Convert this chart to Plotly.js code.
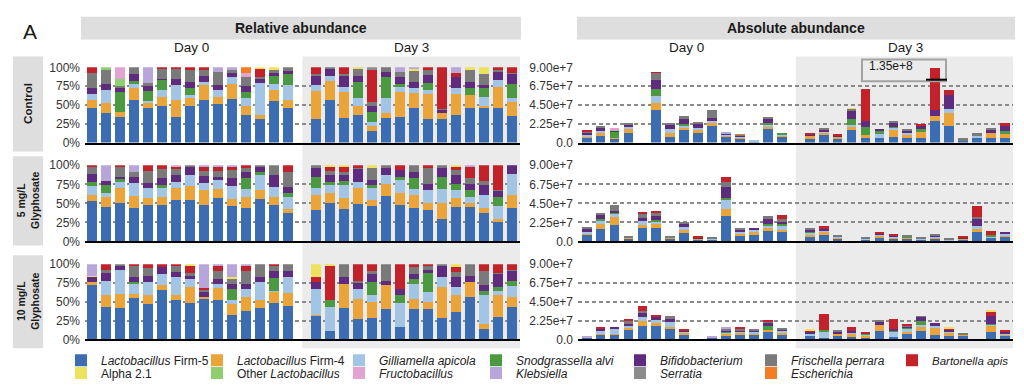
<!DOCTYPE html>
<html><head><meta charset="utf-8">
<script src="https://cdn.plot.ly/plotly-3.0.1.min.js"></script>
<style>html,body{margin:0;padding:0;background:#fff}#chart{width:1024px;height:388px}</style>
</head><body><div id="chart"></div>
<script>
// ---- Relative abundance (%), 15 Day-0 samples then 15 Day-3 samples ----
// Control
const ctrlRelF5   = [46,39,34,56,46,49,34,48,57,51,58,37,31,55,46, 31,56,33,37,15,33,34,46,31,31,37,46,46,46,35];
const ctrlRelF4   = [11,13,7,16,7,12,22,11,19,9,20,11,6,15,10, 38,26,34,11,7,6,33,20,34,8,27,17,2,28,19];
const ctrlRelGil  = [7,18,0,6,2,9,20,4,4,10,9,11,42,8,20, 7,7,7,11,5,20,7,6,5,0,8,0,13,9,5];
const ctrlRelSnod = [0,0,26,4,14,13,0,9,0,0,0,8,0,10,15, 0,0,0,21,14,28,4,0,9,0,0,10,11,0,19];
const ctrlRelBif  = [8,8,5,9,6,2,9,8,9,6,6,8,6,5,4, 13,9,15,9,7,7,9,9,11,4,15,7,4,11,13];
const ctrlRelFris = [21,19,3,9,4,13,13,16,8,18,4,12,2,4,5, 2,2,2,9,6,6,7,14,6,2,0,16,15,3,2];
const ctrlRelBart = [7,0,0,0,0,2,2,4,3,0,0,0,11,0,0, 9,0,9,0,43,0,0,0,4,55,6,0,0,3,7];
const ctrlRelAlpha= [0,0,0,0,0,0,0,0,0,0,0,0,2,3,0, 0,0,0,2,0,0,0,3,0,0,0,4,9,0,0];
const ctrlRelOlac = [0,3,9,0,0,0,0,0,0,0,0,0,0,0,0, 0,0,0,0,0,0,0,0,0,0,0,0,0,0,0];
const ctrlRelFruc = [0,0,16,0,0,0,0,0,0,0,0,5,0,0,0, 0,0,0,0,0,0,0,0,0,0,0,0,0,0,0];
const ctrlRelKleb = [0,0,0,0,21,0,0,0,0,6,3,0,0,0,0, 0,0,0,0,0,0,6,2,0,0,7,0,0,0,0];
const ctrlRelSerr = [0,0,0,0,0,0,0,0,0,0,0,0,0,0,0, 0,0,0,0,3,0,0,0,0,0,0,0,0,0,0];
const ctrlRelEsch = [0,0,0,0,0,0,0,0,0,0,0,8,0,0,0, 0,0,0,0,0,0,0,0,0,0,0,0,0,0,0];
// 5 mg/L Glyphosate
const g5RelF5   = [53,45,50,44,48,48,54,55,48,57,47,44,56,48,38, 41,51,42,49,47,60,48,44,41,29,45,45,38,25,44];
const g5RelF4   = [8,14,20,16,9,11,16,18,19,12,9,15,11,11,5, 20,12,15,21,8,15,16,17,10,22,12,5,6,5,17];
const g5RelGil  = [12,5,8,17,13,11,8,14,10,12,17,10,20,13,16, 9,11,17,8,15,12,17,8,17,18,11,9,17,17,28];
const g5RelSnod = [5,10,4,0,0,4,0,0,0,0,0,14,4,0,5, 15,4,6,0,4,0,4,14,0,16,8,8,0,12,0];
const g5RelBif  = [11,5,3,8,7,9,9,11,9,3,10,8,7,15,8, 11,9,7,17,7,9,9,8,8,11,11,9,13,7,11];
const g5RelFris = [9,0,13,6,15,12,8,2,7,8,11,5,2,13,19, 4,5,4,2,15,4,0,9,20,4,7,7,6,2,0];
const g5RelBart = [2,0,2,0,8,5,3,0,5,6,4,4,0,0,9, 0,6,7,3,0,0,6,0,4,0,4,15,20,32,0];
const g5RelAlpha= [0,0,0,0,0,0,0,0,0,0,0,0,0,0,0, 0,2,2,0,4,0,0,0,0,0,2,0,0,0,0];
const g5RelFruc = [0,0,0,0,0,0,2,0,0,0,0,0,0,0,0, 0,0,0,0,0,0,0,0,0,0,0,0,0,0,0];
const g5RelKleb = [0,21,0,9,0,0,0,0,2,2,2,0,0,0,0, 0,0,0,0,0,0,0,0,0,0,0,2,0,0,0];
// 10 mg/L Glyphosate
const g10RelF5   = [73,43,42,55,47,66,52,49,54,52,33,38,42,48,44, 31,11,42,27,28,40,17,41,41,28,36,56,14,30,43];
const g10RelF4   = [4,16,18,6,12,7,7,21,3,17,14,19,10,15,18, 2,0,32,27,22,32,0,13,9,42,23,21,6,29,13];
const g10RelGil  = [0,19,33,13,17,14,24,11,0,5,5,10,24,2,21, 34,32,0,13,9,0,31,20,13,13,11,0,39,6,15];
const g10RelSnod = [0,0,0,3,0,0,0,0,0,0,15,0,0,17,0, 0,9,0,0,17,0,11,6,26,0,0,0,6,5,7];
const g10RelBif  = [6,11,5,6,9,9,7,4,6,6,7,7,7,9,8, 9,0,9,9,11,6,8,7,4,15,13,8,7,17,13];
const g10RelFris = [0,3,2,15,10,0,8,3,3,11,6,17,17,7,9, 0,0,17,2,4,22,0,9,5,2,7,15,19,2,2];
const g10RelBart = [0,8,0,2,5,4,2,10,2,7,0,7,0,2,0, 7,46,0,22,9,0,33,4,2,0,6,0,9,11,7];
const g10RelAlpha= [2,0,0,0,0,0,0,2,0,0,3,0,0,0,0, 17,2,0,0,0,0,0,0,0,0,4,0,0,0,0];
const g10RelKleb = [15,0,0,0,0,0,0,0,32,2,17,2,0,0,0, 0,0,0,0,0,0,0,0,0,0,0,0,0,0,0];

// ---- Absolute abundance (units of 1e7 copies) ----
const ctrlAbsF5   = [0.59,0.78,0.47,1.17,0,3.91,0.70,1.49,1.17,2.03,0.70,0.39,0.05,1.68,0.66, 0.47,0.86,0.39,1.49,0.59,0.59,0.70,0.59,0.51,2.54,1.96,0.20,0.59,0.59,0.59];
const ctrlAbsF4   = [0.10,0.32,0.12,0.47,0,0.86,0.40,0.27,0.39,0.32,0.16,0.16,0,0.20,0.10, 0.31,0.31,0.27,0.39,0.27,0,0.79,0.31,0.74,0.66,1.56,0,0,0.58,0.40];
const ctrlAbsGil  = [0.17,0.27,0,0.16,0,0.78,0.46,0.20,0.20,0.19,0.12,0.12,0.20,0.27,0.15, 0,0.10,0,0.27,0,0.39,0.27,0.20,0,0,0.47,0,0.15,0,0];
const ctrlAbsSnod = [0,0,0.66,0,0,0.90,0,0.31,0,0,0,0,0,0.20,0.26, 0,0,0,0.67,1.02,0.39,0.12,0,0.39,0,0,0,0,0,0.39];
const ctrlAbsBif  = [0.30,0.39,0.10,0.35,0,0.98,0.59,0.55,0.47,0.39,0.12,0.12,0,0.50,0, 0.20,0.30,0.16,0.90,0.66,0.19,0.47,0.27,0.39,0.71,1.68,0,0,0.30,0.58];
const ctrlAbsFris = [0.10,0.20,0,0.20,0,0.86,0.20,0.31,0.12,0.98,0,0.08,0,0.20,0, 0,0.07,0,0.27,0,0,0.11,0.12,0,0,0,0.39,0.36,0.17,0];
const ctrlAbsBart = [0.19,0,0,0,0,0.11,0,0,0,0,0,0,0,0,0, 0.19,0,0.24,0,3.91,0,0,0,0.12,4.97,0.59,0,0,0,0.39];
const ctrlAbsAlpha= [0,0,0,0,0,0,0,0,0,0,0,0,0,0,0, 0,0,0,0.10,0,0,0,0,0,0,0,0,0,0,0];
const ctrlAbsOlac = [0,0,0.14,0,0,0,0,0,0,0,0,0,0,0,0, 0,0,0,0,0,0,0,0,0,0,0,0,0,0,0];
const ctrlAbsFruc = [0,0,0.15,0,0,0,0,0,0,0,0,0,0,0,0, 0,0,0,0,0,0,0,0,0,0,0,0,0,0,0];
const ctrlAbsKleb = [0,0,0,0,0,0,0,0,0,0,0.07,0,0,0,0, 0,0,0,0,0,0,0,0,0,0,0,0,0,0,0];
const ctrlAbsEsch = [0,0,0,0,0,0,0,0,0,0,0,0.10,0,0,0, 0,0,0,0,0,0,0,0,0,0,0,0,0,0,0];

const g5AbsF5   = [0.82,1.48,1.99,0.30,1.60,1.60,0.30,1.01,0.25,0.25,3.04,0.62,0.82,1.29,1.13, 0.55,0.74,0.30,0,0.25,0.47,0.35,0.30,0.25,0.30,0.12,0.22,1.13,0.40,0.50];
const g5AbsF4   = [0.10,0.59,0.86,0.08,0.39,0.50,0.08,0.39,0.10,0,0.78,0.32,0.27,0.31,0.27, 0.27,0.35,0.10,0,0,0.15,0.12,0.10,0,0.12,0,0.06,0.35,0,0.10];
const g5AbsGil  = [0.21,0.31,0.39,0.10,0.39,0.28,0.07,0.30,0,0.10,1.09,0.15,0.24,0.27,0.47, 0.15,0.12,0.12,0,0.10,0.12,0.10,0,0.10,0.12,0.07,0.08,0.39,0.20,0.35];
const g5AbsSnod = [0,0.27,0.20,0,0,0.10,0,0,0,0,0.20,0,0,0.23,0.20, 0.15,0,0,0,0,0,0,0.10,0,0,0,0,0,0.15,0];
const g5AbsBif  = [0.35,0.51,0.20,0,0.39,0.50,0,0.40,0.08,0,1.36,0.30,0.27,0.55,0.20, 0.25,0.27,0.08,0,0,0.15,0.10,0,0,0.10,0.06,0.07,0.78,0.05,0.18];
const g5AbsFris = [0.12,0.08,0.69,0.14,0.47,0.39,0.10,0.08,0,0.08,0.59,0.13,0,0.31,0.39, 0.11,0,0.10,0,0.20,0,0,0.20,0.20,0.14,0.06,0,0.23,0,0];
const g5AbsBart = [0,0,0,0,0.23,0.26,0,0,0.12,0,0.51,0,0,0,0.46, 0,0.32,0,0,0,0.12,0.15,0,0,0,0,0.12,1.33,0.49,0];

const g10AbsF5   = [0.20,0.51,0.51,1.09,1.60,1.60,1.21,0.51,0,0.15,0.47,0.51,0.55,0.90,0.55, 0.39,0.20,0.39,0.35,0.23,1.02,0.31,0.70,1.02,0.51,0.47,0.39,0,0.90,0.39];
const g10AbsF4   = [0,0.20,0.20,0.27,0.55,0.39,0.28,0.27,0,0,0.20,0.27,0.12,0.27,0.27, 0,0,0.35,0.35,0.20,0.66,0,0.25,0.47,0.86,0.35,0.15,0,0.70,0.12];
const g10AbsGil  = [0,0.27,0.58,0.24,0.59,0.28,0.58,0.12,0,0,0.10,0.15,0.31,0,0.27, 0.35,0.78,0,0.15,0.08,0,0.59,0.35,0.20,0.23,0.15,0,0,0.12,0.20];
const g10AbsSnod = [0,0,0,0,0,0,0,0,0,0,0.20,0,0,0.43,0, 0,0.10,0,0,0.12,0,0.20,0.10,0.50,0,0,0,0,0.15,0];
const g10AbsBif  = [0,0.31,0.08,0.27,0.51,0.39,0.39,0.10,0,0.06,0.12,0.12,0.12,0.40,0.12, 0.16,0,0.15,0.15,0.10,0.39,0.20,0.15,0.47,0.39,0.20,0.06,0,0.98,0.27];
const g10AbsFris = [0,0,0,0.39,0.20,0,0.39,0,0,0,0.16,0.20,0.19,0.17,0.08, 0,0,0.20,0,0,0.31,0,0.15,0.08,0,0,0.10,0,0,0];
const g10AbsBart = [0,0.20,0,0.12,0.58,0.27,0,0.21,0,0,0,0.12,0,0.10,0, 0.12,1.97,0,0.49,0.09,0,1.16,0.18,0,0,0.12,0,0,0.47,0.08];
const g10AbsAlpha= [0,0,0,0,0,0,0,0,0,0,0,0,0,0,0, 0.19,0,0,0,0,0,0,0,0,0,0.12,0,0,0.12,0];
const g10AbsKleb = [0.07,0,0,0,0,0,0,0,0,0.06,0.12,0,0,0,0, 0,0,0,0,0,0,0,0,0,0,0,0,0,0,0];

// tick labels
const relTickVals = [0,25,50,75,100];
const relTickText = ['0%','25%','50%','75%','100%'];
const absTickVals = [0,2.25,4.5,6.75,9];
const absTickText = ['0.0','2.25e+7','4.50e+7','6.75e+7','9.00e+7'];
const dayLabels = ['Day 0','Day 3'];
const rowLabels = ['Control','5 mg/L<br>Glyphosate','10 mg/L<br>Glyphosate'];

// species (legend order = stacking order)
const species = [
  {k:'F5',   name:'<i>Lactobacillus</i> Firm-5', color:'#3c6db3'},
  {k:'F4',   name:'<i>Lactobacillus</i> Firm-4', color:'#eba43a'},
  {k:'Gil',  name:'<i>Gilliamella apicola</i>',  color:'#a2c5e6'},
  {k:'Snod', name:'<i>Snodgrassella alvi</i>',   color:'#4b9940'},
  {k:'Bif',  name:'<i>Bifidobacterium</i>',      color:'#5e2b7e'},
  {k:'Fris', name:'<i>Frischella perrara</i>',   color:'#7a7a7a'},
  {k:'Bart', name:'<i>Bartonella apis</i>',      color:'#c4222a'},
  {k:'Alpha',name:'Alpha 2.1',                   color:'#ece25e'},
  {k:'Olac', name:'Other <i>Lactobacillus</i>',  color:'#90cf70'},
  {k:'Fruc', name:'<i>Fructobacillus</i>',       color:'#e2a3d3'},
  {k:'Kleb', name:'<i>Klebsiella</i>',           color:'#b8a6da'},
  {k:'Serr', name:'<i>Serratia</i>',             color:'#8c8c8c'},
  {k:'Esch', name:'<i>Escherichia</i>',          color:'#f47d23'}
];

const panels = [
  {xa:'x',  ya:'y',  v:{F5:ctrlRelF5,F4:ctrlRelF4,Gil:ctrlRelGil,Snod:ctrlRelSnod,Bif:ctrlRelBif,Fris:ctrlRelFris,Bart:ctrlRelBart,Alpha:ctrlRelAlpha,Olac:ctrlRelOlac,Fruc:ctrlRelFruc,Kleb:ctrlRelKleb,Serr:ctrlRelSerr,Esch:ctrlRelEsch}, unit:'%'},
  {xa:'x2', ya:'y2', v:{F5:ctrlAbsF5,F4:ctrlAbsF4,Gil:ctrlAbsGil,Snod:ctrlAbsSnod,Bif:ctrlAbsBif,Fris:ctrlAbsFris,Bart:ctrlAbsBart,Alpha:ctrlAbsAlpha,Olac:ctrlAbsOlac,Fruc:ctrlAbsFruc,Kleb:ctrlAbsKleb,Esch:ctrlAbsEsch}, unit:'e7'},
  {xa:'x3', ya:'y3', v:{F5:g5RelF5,F4:g5RelF4,Gil:g5RelGil,Snod:g5RelSnod,Bif:g5RelBif,Fris:g5RelFris,Bart:g5RelBart,Alpha:g5RelAlpha,Fruc:g5RelFruc,Kleb:g5RelKleb}, unit:'%'},
  {xa:'x4', ya:'y4', v:{F5:g5AbsF5,F4:g5AbsF4,Gil:g5AbsGil,Snod:g5AbsSnod,Bif:g5AbsBif,Fris:g5AbsFris,Bart:g5AbsBart}, unit:'e7'},
  {xa:'x5', ya:'y5', v:{F5:g10RelF5,F4:g10RelF4,Gil:g10RelGil,Snod:g10RelSnod,Bif:g10RelBif,Fris:g10RelFris,Bart:g10RelBart,Alpha:g10RelAlpha,Kleb:g10RelKleb}, unit:'%'},
  {xa:'x6', ya:'y6', v:{F5:g10AbsF5,F4:g10AbsF4,Gil:g10AbsGil,Snod:g10AbsSnod,Bif:g10AbsBif,Fris:g10AbsFris,Bart:g10AbsBart,Alpha:g10AbsAlpha,Kleb:g10AbsKleb}, unit:'e7'}
];

const W = 1024, H = 388;
const px = v => v / W, py = v => 1 - v / H;
const FONT = 'Liberation Sans, Arial, Helvetica, sans-serif';
const slot = i => (i < 15 ? i + 1 : i + 2);   // one empty slot separates Day 0 / Day 3
const legendName = i => (i === 0 ? 'legend' : 'legend' + (i + 1));

const traces = [];
panels.forEach((p, pi) => {
  species.forEach((s, si) => {
    const vals = p.v[s.k];
    if (!vals) return;
    traces.push({
      type: 'bar', xaxis: p.xa, yaxis: p.ya,
      x: vals.map((_, i) => slot(i)), y: vals,
      name: s.name, legendgroup: s.k, legend: legendName(si),
      showlegend: pi === 0,
      marker: {color: s.color, line: {width: 0}},
      hovertemplate: p.unit === '%' ? '%{y}%<extra>' + s.name + '</extra>' : '%{y}e+7<extra>' + s.name + '</extra>'
    });
  });
});

// legend entry positions [text-left px, row-centre px]
const legendSpots = [[101,364],[237,364],[379,364],[516,364],[660,364],[791,364],[932,364],
                     [101,377],[237,377],[379,377],[516,377],[660,377],[791,377]];

const LX = [85, 520], RX = [578, 1013];
const rows = [[68,144],[167,244],[267,343]];

function xAxis(dom, rng, anchor) {
  return {domain: [px(dom[0]), px(dom[1])], range: rng, anchor: anchor,
    showticklabels: false, showgrid: false, zeroline: false, ticks: '',
    showline: true, linecolor: '#000', linewidth: 2, fixedrange: true};
}
function yAxis(row, anchor, rng, tv, tt) {
  return {domain: [py(row[1]), py(row[0])], range: rng, anchor: anchor,
    tickvals: tv, ticktext: tt, ticks: '', ticklabelstandoff: 4,
    tickfont: {family: FONT, size: 12, color: '#333'},
    showgrid: true, gridcolor: '#8a8a8a', gridwidth: 1.6, griddash: '4px,3px',
    zeroline: false, showline: false, fixedrange: true};
}

const layout = {
  width: W, height: H, margin: {l: 0, r: 0, t: 0, b: 0},
  paper_bgcolor: '#fff', plot_bgcolor: 'rgba(0,0,0,0)',
  barmode: 'stack', bargap: 0.3,
  font: {family: FONT, color: '#222'},
  xaxis:  xAxis(LX, [0.48, 31.55], 'y'),
  yaxis:  yAxis(rows[0], 'x', [0, 100], relTickVals, relTickText),
  xaxis2: xAxis(RX, [0.38, 31.58], 'y2'),
  yaxis2: yAxis(rows[0], 'x2', [0, 9], absTickVals, absTickText),
  xaxis3: xAxis(LX, [0.48, 31.55], 'y3'),
  yaxis3: yAxis(rows[1], 'x3', [0, 100], relTickVals, relTickText),
  xaxis4: xAxis(RX, [0.38, 31.58], 'y4'),
  yaxis4: yAxis(rows[1], 'x4', [0, 9], absTickVals, absTickText),
  xaxis5: xAxis(LX, [0.48, 31.55], 'y5'),
  yaxis5: yAxis(rows[2], 'x5', [0, 100], relTickVals, relTickText),
  xaxis6: xAxis(RX, [0.38, 31.58], 'y6'),
  yaxis6: yAxis(rows[2], 'x6', [0, 9], absTickVals, absTickText),
  shapes: [],
  annotations: []
};

species.forEach((s, si) => {
  layout[legendName(si)] = {
    x: px(legendSpots[si][0] - 40), xanchor: 'left',
    y: py(legendSpots[si][1]), yanchor: 'middle',
    bgcolor: 'rgba(0,0,0,0)', borderwidth: 0,
    font: {family: FONT, size: s.k === 'Bart' ? 11.5 : 12, color: '#222'}
  };
});

const rect = (x0, y0, x1, y1, fill, layer) => ({type: 'rect', xref: 'paper', yref: 'paper',
  x0: px(x0), x1: px(x1), y0: py(y1), y1: py(y0), fillcolor: fill, line: {width: 0}, layer: layer || 'below'});

// Day 3 shading (behind all rows)
layout.shapes.push({type: 'rect', xref: 'x', yref: 'paper', x0: 16, x1: 31.55, y0: py(352), y1: py(57),
  fillcolor: '#ebebeb', line: {width: 0}, layer: 'below'});
layout.shapes.push({type: 'rect', xref: 'x2', yref: 'paper', x0: 16, x1: 31.58, y0: py(352), y1: py(57),
  fillcolor: '#ebebeb', line: {width: 0}, layer: 'below'});
// header strips
layout.shapes.push(rect(81, 17, 521, 40, '#dedede'));
layout.shapes.push(rect(577, 17, 1015, 40, '#dedede'));
// row strips
layout.shapes.push(rect(13, 57, 43, 153, '#dedede'));
layout.shapes.push(rect(13, 158, 43, 248, '#dedede'));
layout.shapes.push(rect(13, 258, 43, 352, '#dedede'));
// inset box for clipped bar
layout.shapes.push({type: 'rect', xref: 'paper', yref: 'paper', x0: px(862), x1: px(946), y0: py(82), y1: py(60),
  line: {color: '#a3a3a3', width: 2}, fillcolor: 'rgba(0,0,0,0)', layer: 'above'});
layout.shapes.push({type: 'line', xref: 'paper', yref: 'paper', x0: px(926), x1: px(947), y0: py(80.5), y1: py(80.5),
  line: {color: '#000', width: 2}, layer: 'above'});

const ann = (text, x, y, size, opts) => Object.assign({text: text, x: px(x), y: py(y), xref: 'paper', yref: 'paper',
  showarrow: false, xanchor: 'center', yanchor: 'middle', font: {family: FONT, size: size, color: '#1a1a1a'}}, opts || {});

layout.annotations.push(ann('A', 30, 32, 21));
layout.annotations.push(ann('<b>Relative abundance</b>', 301, 28.5, 14));
layout.annotations.push(ann('<b>Absolute abundance</b>', 796, 28.5, 14));
layout.annotations.push(ann(dayLabels[0], 191, 48, 13.5));
layout.annotations.push(ann(dayLabels[1], 411, 48, 13.5));
layout.annotations.push(ann(dayLabels[0], 686, 48, 13.5));
layout.annotations.push(ann(dayLabels[1], 905, 48, 13.5));
layout.annotations.push(ann('<b>' + rowLabels[0] + '</b>', 28, 105, 11.5, {textangle: -90}));
layout.annotations.push(ann('<b>' + rowLabels[1] + '</b>', 28, 203, 10.5, {textangle: -90}));
layout.annotations.push(ann('<b>' + rowLabels[2] + '</b>', 28, 305, 10.5, {textangle: -90}));
layout.annotations.push(ann('1.35e+8', 891, 67, 12));

Plotly.newPlot('chart', traces, layout, {displayModeBar: false, staticPlot: false});
</script>
</body></html>
